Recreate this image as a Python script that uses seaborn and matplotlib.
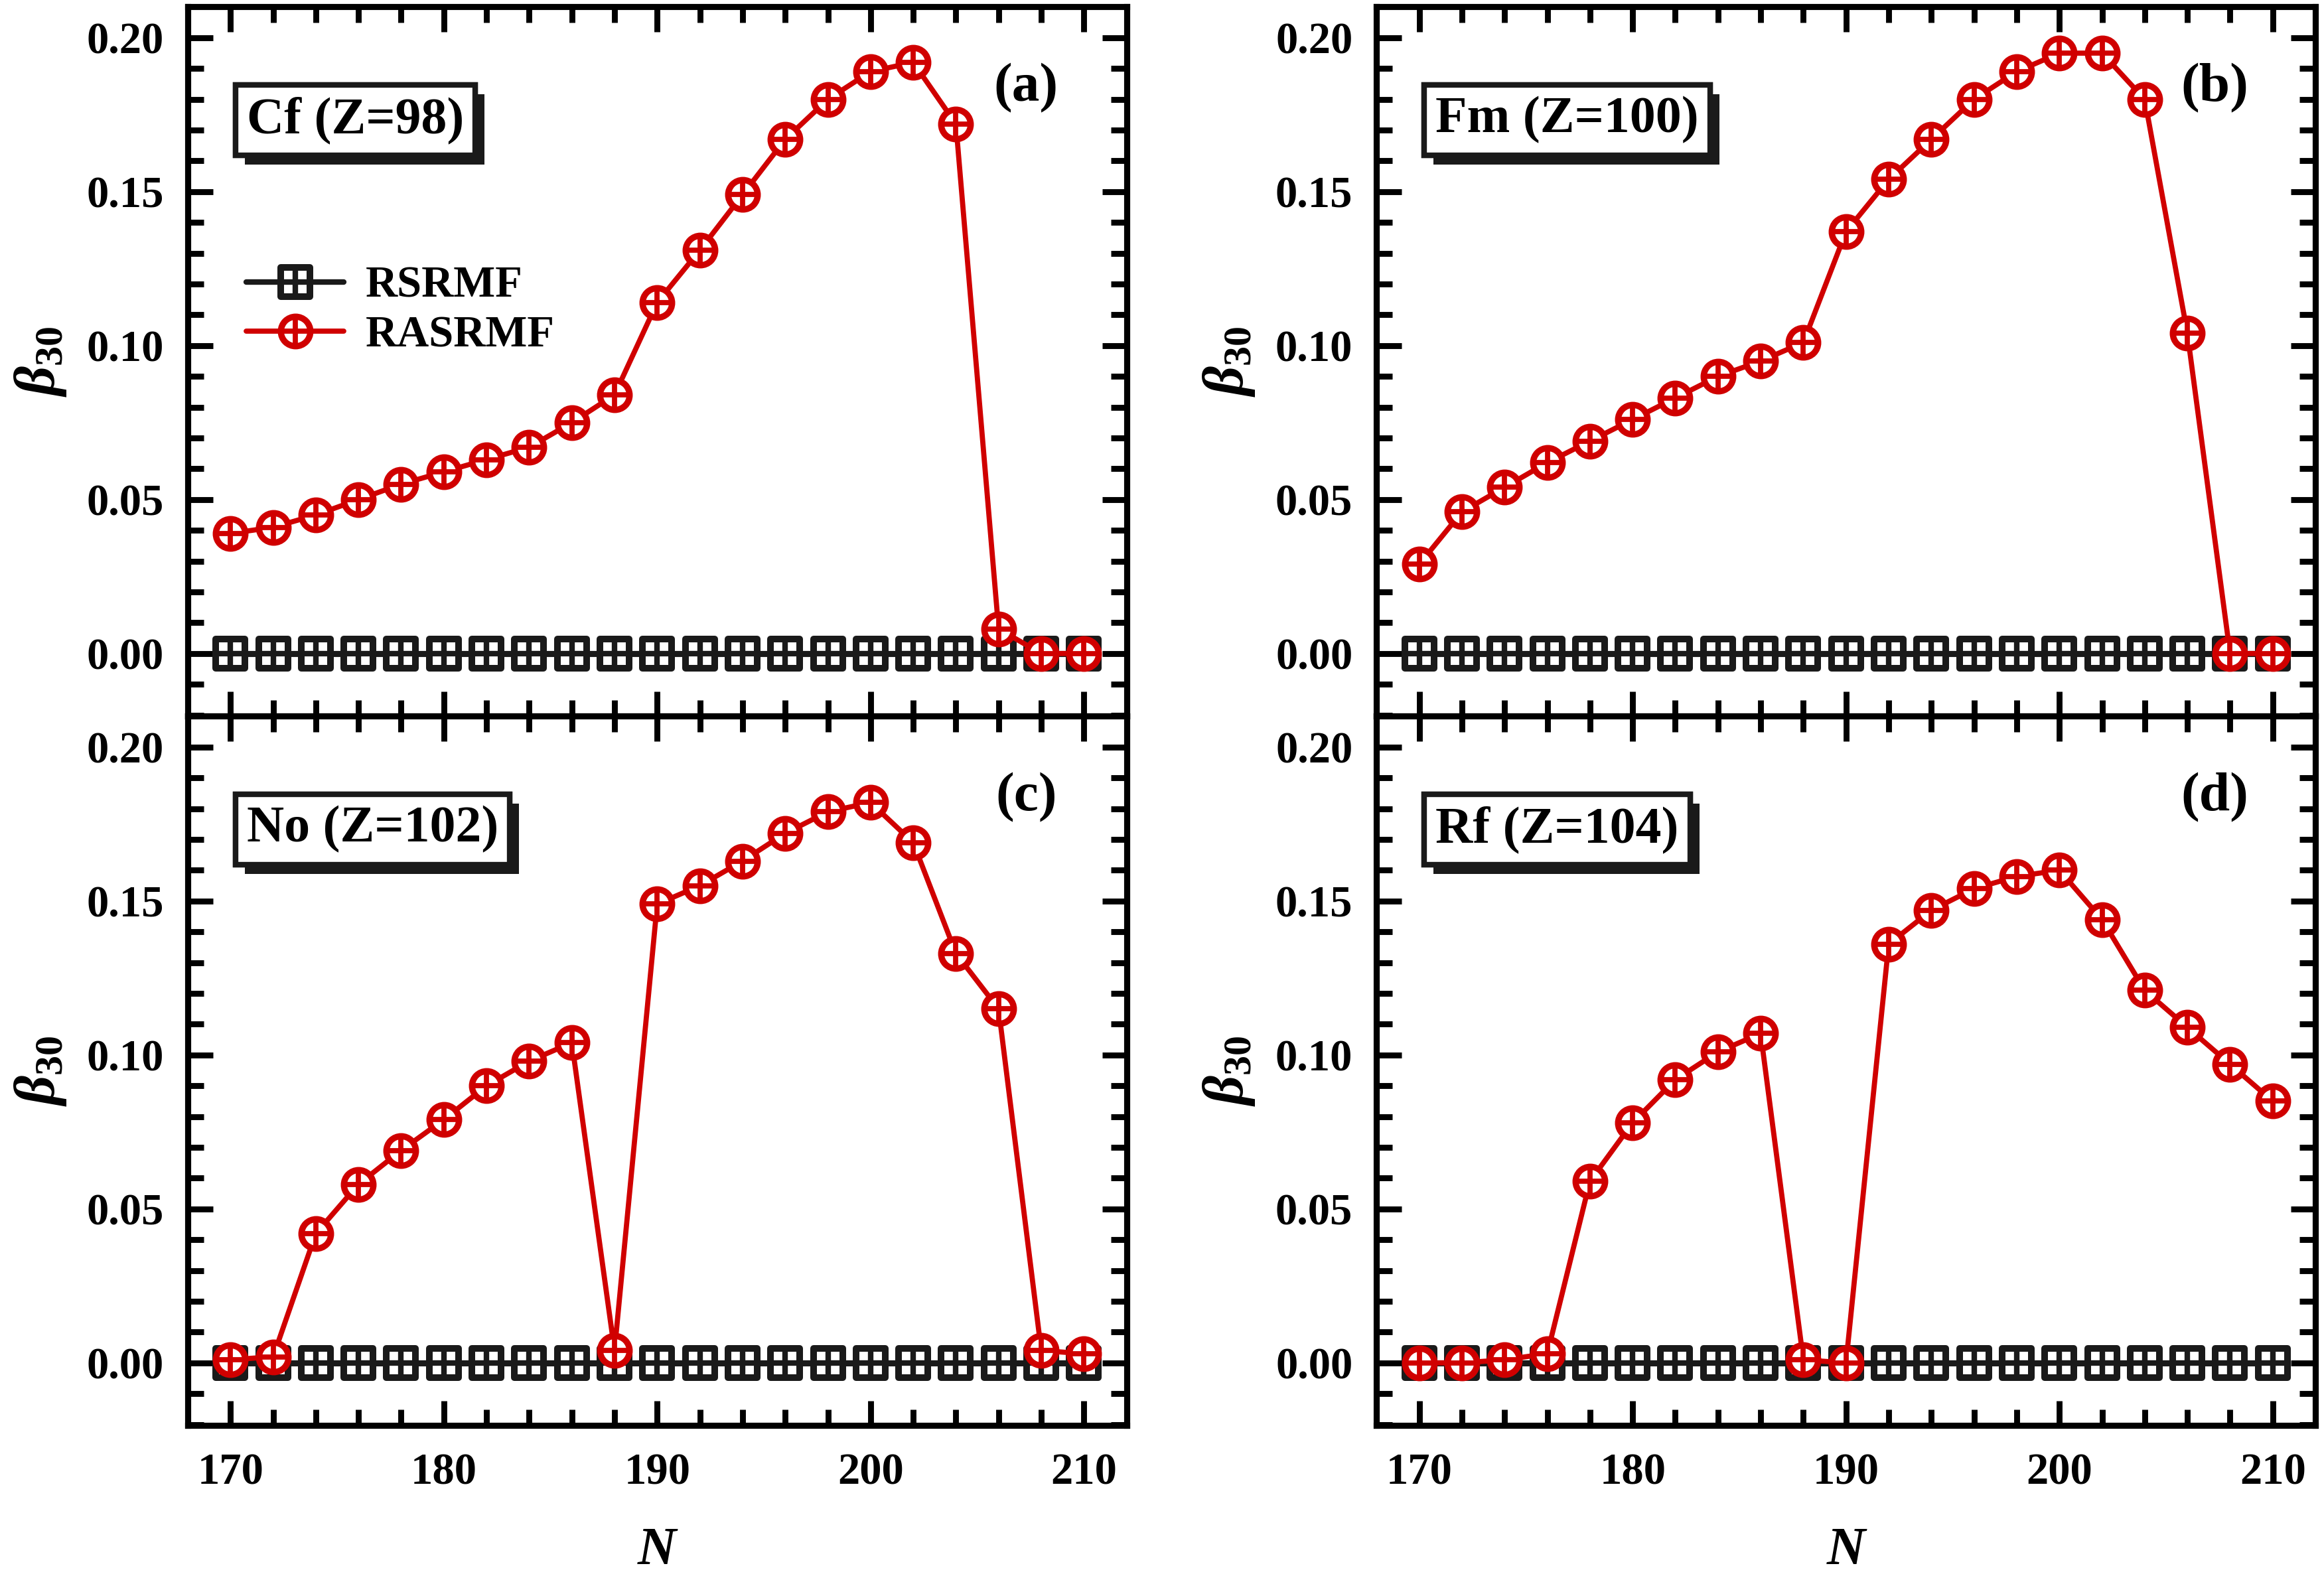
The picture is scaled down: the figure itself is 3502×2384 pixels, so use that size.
import matplotlib
matplotlib.use("Agg")
import matplotlib.pyplot as plt
import matplotlib.patheffects as pe
from matplotlib.lines import Line2D
from matplotlib.markers import MarkerStyle
from matplotlib.ticker import MultipleLocator, FormatStrFormatter
import seaborn as sns

# neutron numbers
N = [170, 172, 174, 176, 178, 180, 182, 184, 186, 188, 190,
     192, 194, 196, 198, 200, 202, 204, 206, 208, 210]

# RSRMF gives zero octupole deformation for all isotopes
rsrmf = [0.0, 0.0, 0.0, 0.0, 0.0, 0.0, 0.0, 0.0, 0.0, 0.0, 0.0,
         0.0, 0.0, 0.0, 0.0, 0.0, 0.0, 0.0, 0.0, 0.0, 0.0]

# RASRMF beta_30 values
cf_rasrmf = [0.039, 0.041, 0.045, 0.050, 0.055, 0.059, 0.063, 0.067, 0.075, 0.084, 0.114,
             0.131, 0.149, 0.167, 0.180, 0.189, 0.192, 0.172, 0.008, 0.000, 0.000]
fm_rasrmf = [0.029, 0.046, 0.054, 0.062, 0.069, 0.076, 0.083, 0.090, 0.095, 0.101, 0.137,
             0.154, 0.167, 0.180, 0.189, 0.195, 0.195, 0.180, 0.104, 0.000, 0.000]
no_rasrmf = [0.001, 0.002, 0.042, 0.058, 0.069, 0.079, 0.090, 0.098, 0.104, 0.004, 0.149,
             0.155, 0.163, 0.172, 0.179, 0.182, 0.169, 0.133, 0.115, 0.004, 0.003]
rf_rasrmf = [0.000, 0.000, 0.001, 0.003, 0.059, 0.078, 0.092, 0.101, 0.107, 0.001, 0.000,
             0.136, 0.147, 0.154, 0.158, 0.160, 0.144, 0.121, 0.109, 0.097, 0.085]

nuclei = ["Cf (Z=98)", "Fm (Z=100)", "No (Z=102)", "Rf (Z=104)"]
tags = ["(a)", "(b)", "(c)", "(d)"]
series = [cf_rasrmf, fm_rasrmf, no_rasrmf, rf_rasrmf]

RED = "#d00000"

sns.set_theme(style="ticks")
plt.rcParams["font.family"] = ["Liberation Serif", "DejaVu Serif"]
plt.rcParams["font.weight"] = "bold"
plt.rcParams["axes.labelweight"] = "bold"
plt.rcParams["mathtext.fontset"] = "custom"
plt.rcParams["mathtext.it"] = "Liberation Serif:italic:bold"
plt.rcParams["mathtext.rm"] = "Liberation Serif:bold"
plt.rcParams["mathtext.bf"] = "Liberation Serif:bold"
for key in ["text.color", "axes.labelcolor", "axes.edgecolor",
            "xtick.color", "ytick.color"]:
    plt.rcParams[key] = "black"

# marker styles (rounded square with cross, circle with cross)
sq_kw = dict(marker=MarkerStyle("s", joinstyle="round"), markersize=15.5,
             markerfacecolor="white", markeredgecolor="k", markeredgewidth=3.6)
sq_plus = dict(marker="+", markersize=15.5, markeredgecolor="k", markeredgewidth=3.0)
ci_kw = dict(marker="o", markersize=16, markerfacecolor="white",
             markeredgecolor=RED, markeredgewidth=3.4)
ci_plus = dict(marker="+", markersize=16, markeredgecolor=RED, markeredgewidth=2.8)

fig, axes = plt.subplots(2, 2, figsize=(17.51, 11.92), dpi=200, sharex=True)
fig.subplots_adjust(left=0.0808, right=0.9963, bottom=0.0990, top=0.9958,
                    hspace=0.0, wspace=0.2663)

for i, ax in enumerate(axes.flat):
    vals = series[i]
    sns.lineplot(x=N, y=rsrmf, ax=ax, color="k", lw=3.3, zorder=3, **sq_kw)
    sns.lineplot(x=N, y=rsrmf, ax=ax, color="k", linestyle="", zorder=4, **sq_plus)
    sns.lineplot(x=N, y=vals, ax=ax, color=RED, lw=2.8, zorder=5, **ci_kw)
    sns.lineplot(x=N, y=vals, ax=ax, color=RED, linestyle="", zorder=6, **ci_plus)

    ax.set_xlim(168, 212)
    ax.set_ylim(-0.0203, 0.2101)
    ax.xaxis.set_major_locator(MultipleLocator(10))
    ax.xaxis.set_minor_locator(MultipleLocator(2))
    ax.yaxis.set_major_locator(MultipleLocator(0.05))
    ax.yaxis.set_minor_locator(MultipleLocator(0.01))
    ax.yaxis.set_major_formatter(FormatStrFormatter("%.2f"))
    ax.tick_params(which="both", direction="in", top=True, right=True,
                   labelsize=24, color="black", labelcolor="black")
    ax.tick_params(which="major", length=13.5, width=3.2)
    ax.tick_params(which="minor", length=8.5, width=3.2)
    ax.tick_params(axis="y", which="major", pad=13)
    ax.tick_params(axis="x", which="major", pad=15)
    for sp in ax.spines.values():
        sp.set_linewidth(3.3)
        sp.set_color("black")

    ax.set_ylabel(r"$\beta_{30}$", fontsize=31, labelpad=10)
    if i >= 2:
        ax.set_xlabel("N", fontsize=29, fontstyle="italic", labelpad=18)
    else:
        ax.set_xlabel("")

    t = ax.text(0.063, 0.84, nuclei[i], transform=ax.transAxes, fontsize=28,
                fontweight="bold", ha="left", va="center", zorder=10,
                bbox=dict(boxstyle="square,pad=0.22", fc="white", ec="k", lw=3))
    t.get_bbox_patch().set_path_effects([
        pe.withSimplePatchShadow(offset=(5, -5), shadow_rgbFace="k", alpha=1.0),
        pe.Normal()])
    ax.text(0.893, 0.885, tags[i], transform=ax.transAxes, fontsize=30,
            fontweight="bold", ha="center", va="center", zorder=10)

# legend only in panel (a)
h_rs = (Line2D([], [], color="k", lw=3.0, **sq_kw),
        Line2D([], [], color="k", linestyle="", **sq_plus))
h_ras = (Line2D([], [], color=RED, lw=2.8, **ci_kw),
         Line2D([], [], color=RED, linestyle="", **ci_plus))
axes[0, 0].legend([h_rs, h_ras], ["RSRMF", "RASRMF"], loc="center left",
                  bbox_to_anchor=(0.02, 0.571), frameon=False, fontsize=24,
                  handlelength=2.2, handletextpad=0.5, labelspacing=0.2,
                  numpoints=1)

fig.savefig("out.png", dpi=200)
